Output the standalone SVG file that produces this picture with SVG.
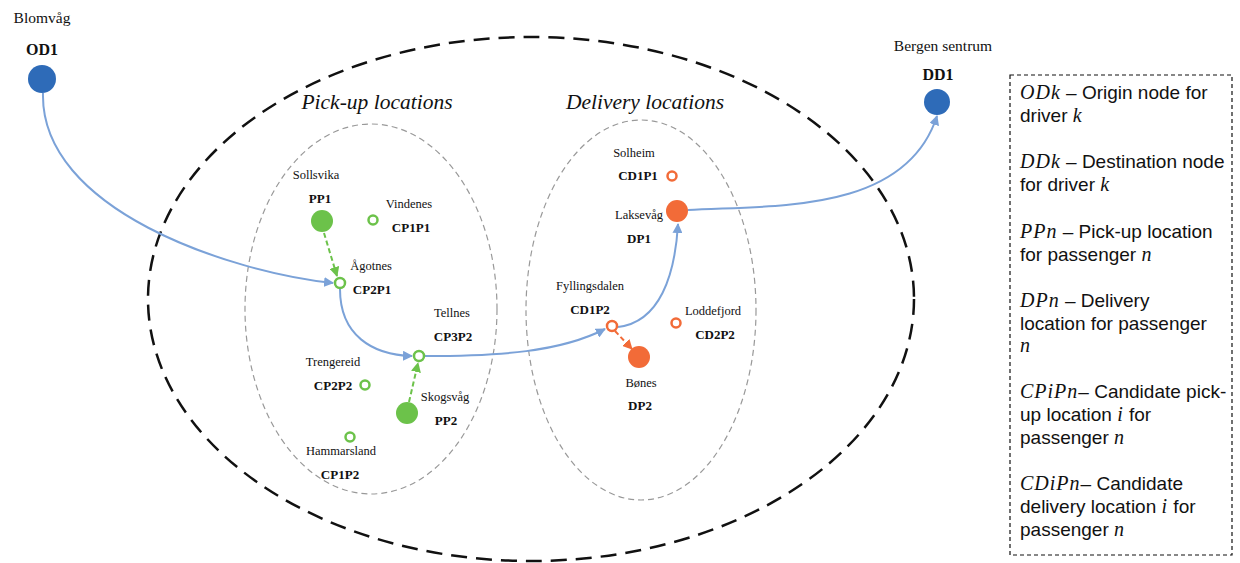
<svg xmlns="http://www.w3.org/2000/svg" width="1240" height="563" viewBox="0 0 1240 563">
<defs>
<style>
.lbl{font-family:"Liberation Serif",serif;font-size:12.5px;fill:#111;text-anchor:middle}
.b{font-weight:bold;font-size:13px}
.ttl{font-family:"Liberation Serif",serif;font-style:italic;font-size:21.5px;fill:#111;text-anchor:middle}
.top{font-family:"Liberation Serif",serif;font-size:15.5px;fill:#111;text-anchor:middle}
.topb{font-family:"Liberation Serif",serif;font-size:16px;font-weight:bold;fill:#111;text-anchor:middle}
.lg{font-family:"Liberation Sans",Arial,sans-serif;font-size:19px;fill:#111}
.m{font-family:"Liberation Serif",serif;font-style:italic;font-size:20px;letter-spacing:1px}
.route{fill:none;stroke:#7ba2d8;stroke-width:2;marker-end:url(#ab)}
.gd{fill:none;stroke:#6cc24a;stroke-width:2;stroke-dasharray:5 3;marker-end:url(#ag)}
.od{fill:none;stroke:#f26b38;stroke-width:2;stroke-dasharray:5 3;marker-end:url(#ao)}
.gf{fill:#6cc24a}
.gr{fill:#fff;stroke:#6cc24a;stroke-width:2.5}
.of{fill:#f26b38}
.or{fill:#fff;stroke:#f26b38;stroke-width:2.5}
.bf{fill:#2e6bb8}
</style>
<marker id="ab" viewBox="0 0 10 10" refX="9" refY="5" markerWidth="5" markerHeight="5" orient="auto"><path d="M0,0 L10,5 L0,10 z" fill="#7ba2d8"/></marker>
<marker id="ag" viewBox="0 0 10 10" refX="9" refY="5" markerWidth="5" markerHeight="5" orient="auto"><path d="M0,0 L10,5 L0,10 z" fill="#6cc24a"/></marker>
<marker id="ao" viewBox="0 0 10 10" refX="9" refY="5" markerWidth="5" markerHeight="5" orient="auto"><path d="M0,0 L10,5 L0,10 z" fill="#f26b38"/></marker>
</defs>
<rect width="1240" height="563" fill="#fff"/>

<g id="regions">
<ellipse cx="531" cy="299" rx="383" ry="262" fill="none" stroke="#111" stroke-width="2.5" stroke-dasharray="16 9"/>
<ellipse cx="371" cy="309" rx="126" ry="185" fill="none" stroke="#999" stroke-width="1.2" stroke-dasharray="6 4"/>
<ellipse cx="641" cy="310" rx="115" ry="190" fill="none" stroke="#999" stroke-width="1.2" stroke-dasharray="6 4"/>
<text class="ttl" x="377" y="109">Pick-up locations</text>
<text class="ttl" x="645" y="109">Delivery locations</text>
</g>

<g id="connectors">
<path class="route" d="M43,93 C40,210 230,272 333,283"/>
<path class="route" d="M340,289 C340,335 372,355 412,356"/>
<path class="route" d="M425,356 C500,356 560,352 605,329"/>
<path class="route" d="M618,327 C660,322 675,275 678,224"/>
<path class="route" d="M688,210 C770,205 905,215 937,116"/>
<path class="gd" d="M324,233 L337,276"/>
<path class="gd" d="M409,402 L418,363"/>
<path class="od" d="M615,331 L632,349"/>
</g>

<g id="OD1"><circle class="bf" cx="42" cy="79" r="14"/><text class="top" x="42" y="23">Blomvåg</text><text class="topb" x="42" y="55">OD1</text></g>
<g id="DD1"><circle class="bf" cx="937" cy="102" r="13"/><text class="top" x="943" y="51">Bergen sentrum</text><text class="topb" x="938" y="80">DD1</text></g>

<g id="PP1"><circle class="gf" cx="322" cy="221" r="11"/><text class="lbl" x="316" y="179">Sollsvika</text><text class="lbl b" x="320" y="203">PP1</text></g>
<g id="CP1P1"><circle class="gr" cx="373" cy="220" r="4.5"/><text class="lbl" x="409" y="208">Vindenes</text><text class="lbl b" x="411" y="232">CP1P1</text></g>
<g id="CP2P1"><circle class="gr" cx="340" cy="283" r="5"/><text class="lbl" x="371" y="270">Ågotnes</text><text class="lbl b" x="372" y="294">CP2P1</text></g>
<g id="CP3P2"><circle class="gr" cx="419" cy="356" r="5"/><text class="lbl" x="452" y="317">Tellnes</text><text class="lbl b" x="453" y="341">CP3P2</text></g>
<g id="CP2P2"><circle class="gr" cx="365" cy="385" r="4.5"/><text class="lbl" x="333" y="366">Trengereid</text><text class="lbl b" x="333" y="390">CP2P2</text></g>
<g id="PP2"><circle class="gf" cx="407" cy="413" r="11"/><text class="lbl" x="445" y="401">Skogsvåg</text><text class="lbl b" x="446" y="425">PP2</text></g>
<g id="CP1P2"><circle class="gr" cx="350" cy="437" r="4.5"/><text class="lbl" x="341" y="455">Hammarsland</text><text class="lbl b" x="340" y="479">CP1P2</text></g>

<g id="CD1P1"><circle class="or" cx="672" cy="176" r="4.5"/><text class="lbl" x="634" y="157">Solheim</text><text class="lbl b" x="638" y="180">CD1P1</text></g>
<g id="DP1"><circle class="of" cx="677" cy="211" r="11"/><text class="lbl" x="639" y="219">Laksevåg</text><text class="lbl b" x="639" y="243">DP1</text></g>
<g id="CD1P2"><circle class="or" cx="612" cy="326" r="5"/><text class="lbl" x="590" y="290">Fyllingsdalen</text><text class="lbl b" x="590" y="314">CD1P2</text></g>
<g id="CD2P2"><circle class="or" cx="676" cy="323" r="4.5"/><text class="lbl" x="713" y="315">Loddefjord</text><text class="lbl b" x="715" y="339">CD2P2</text></g>
<g id="DP2"><circle class="of" cx="639" cy="357" r="11"/><text class="lbl" x="641" y="387">Bønes</text><text class="lbl b" x="640" y="410">DP2</text></g>

<g id="legend">
<rect x="1010" y="75" width="222" height="480" fill="none" stroke="#111" stroke-width="1.2" stroke-dasharray="4 3"/>
<text class="lg" x="1020" y="99"><tspan class="m">ODk</tspan> – Origin node for</text>
<text class="lg" x="1020" y="122">driver <tspan class="m">k</tspan></text>
<text class="lg" x="1020" y="168"><tspan class="m">DDk</tspan> – Destination node</text>
<text class="lg" x="1020" y="191">for driver <tspan class="m">k</tspan></text>
<text class="lg" x="1020" y="238"><tspan class="m">PPn</tspan> – Pick-up location</text>
<text class="lg" x="1020" y="261">for passenger <tspan class="m">n</tspan></text>
<text class="lg" x="1020" y="307"><tspan class="m">DPn</tspan>  – Delivery</text>
<text class="lg" x="1020" y="330">location for passenger</text>
<text class="lg" x="1020" y="352"><tspan class="m">n</tspan></text>
<text class="lg" x="1020" y="398"><tspan class="m">CPiPn</tspan>– Candidate pick-</text>
<text class="lg" x="1020" y="421">up location <tspan class="m">i</tspan> for</text>
<text class="lg" x="1020" y="444">passenger <tspan class="m">n</tspan></text>
<text class="lg" x="1020" y="490"><tspan class="m">CDiPn</tspan>– Candidate</text>
<text class="lg" x="1020" y="513">delivery location <tspan class="m">i</tspan> for</text>
<text class="lg" x="1020" y="536">passenger <tspan class="m">n</tspan></text>
</g>
</svg>
